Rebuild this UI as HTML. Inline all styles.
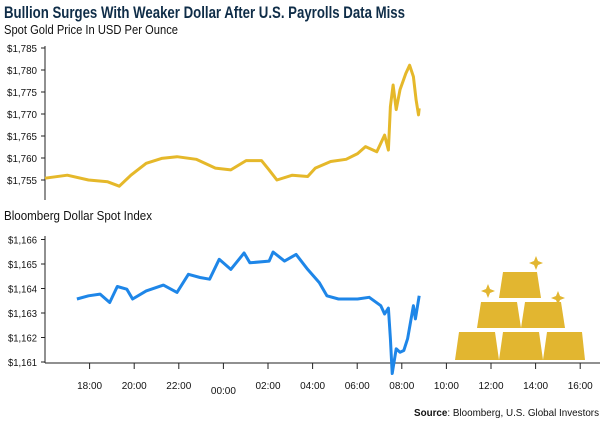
<!DOCTYPE html>
<html><head><meta charset="utf-8"><style>
html,body{margin:0;padding:0;background:#fff;}
svg{display:block;font-family:"Liberation Sans",sans-serif;}
</style></head><body>
<svg id="c" width="600" height="423" viewBox="0 0 600 423">
<text x="4" y="18" font-size="17" font-weight="bold" fill="#0f2d48" textLength="401" lengthAdjust="spacingAndGlyphs">Bullion Surges With Weaker Dollar After U.S. Payrolls Data Miss</text>
<text x="4" y="34" font-size="13" fill="#111" textLength="174" lengthAdjust="spacingAndGlyphs">Spot Gold Price In USD Per Ounce</text>
<text x="4" y="220" font-size="13" fill="#111" textLength="148" lengthAdjust="spacingAndGlyphs">Bloomberg Dollar Spot Index</text>
<g id="goldAxis"></g>
<g id="usdAxis"></g>
<g id="xAxis"></g>
<path id="goldLine" fill="none" stroke="#E5B82A" stroke-width="3" stroke-linejoin="round"/>
<path id="usdLine" fill="none" stroke="#1E86E8" stroke-width="3" stroke-linejoin="round"/>
<g fill="#E2B630">
<path d="M503 272 H537 L541 298 H499 Z"/>
<path d="M481 302 H517 L521 328 H477 Z"/>
<path d="M525 302 H561 L565 328 H521 Z"/>
<path d="M459 332 H495 L499 360 H455 Z"/>
<path d="M503 332 H539 L543 360 H499 Z"/>
<path d="M547 332 H582 L585 360 H543 Z"/>
<path d="M488 284 L490 289 L495 291 L490 293 L488 298 L486 293 L481 291 L486 289 Z"/>
<path d="M536 256 L538 261 L543 263 L538 265 L536 270 L534 265 L529 263 L534 261 Z"/>
<path d="M558 291 L560 296 L565 298 L560 300 L558 305 L556 300 L551 298 L556 296 Z"/>
</g>
<text x="599" y="416" font-size="10.5" text-anchor="end" fill="#111" textLength="185" lengthAdjust="spacingAndGlyphs"><tspan font-weight="bold">Source</tspan>: Bloomberg, U.S. Global Investors</text>
</svg>
<script>
// hours since 16:00
const goldHours=[0,1.0,1.95,2.81,3.33,3.85,4.54,5.23,5.92,6.78,7.64,8.33,9.02,9.71,10.05,10.4,11.09,11.78,12.12,12.81,13.5,14.02,14.37,14.88,15.23,15.4,15.49,15.61,15.75,15.92,16.18,16.35,16.52,16.64,16.75,16.78];
const goldValues=[1755.4,1756.1,1755,1754.6,1753.6,1756.1,1758.8,1759.9,1760.3,1759.7,1757.7,1757.3,1759.4,1759.4,1757.3,1755,1756.1,1755.8,1757.7,1759.2,1759.7,1761,1762.6,1761.4,1765.2,1761.8,1771.7,1776.6,1771,1775.5,1779.2,1781.1,1778.5,1773.2,1769.8,1771.3];
const usdHours=[1.43,1.95,2.47,2.9,3.24,3.67,3.93,4.54,5.31,5.92,6.43,6.95,7.38,7.81,8.33,8.93,9.19,10.05,10.23,10.74,11.26,11.78,12.3,12.64,13.16,14.02,14.54,15.06,15.23,15.4,15.49,15.57,15.75,15.92,16.09,16.26,16.52,16.61,16.78];
const usdValues=[1163.57,1163.7,1163.77,1163.43,1164.08,1163.97,1163.57,1163.9,1164.14,1163.84,1164.58,1164.45,1164.38,1165.19,1164.78,1165.45,1165.05,1165.12,1165.49,1165.12,1165.39,1164.78,1164.24,1163.7,1163.57,1163.57,1163.64,1163.3,1162.96,1163.2,1161.95,1160.53,1161.54,1161.4,1161.47,1161.95,1163.3,1162.76,1163.7];
const goldTicks=[1755,1760,1765,1770,1775,1780,1785];
const usdTicks=[1161,1162,1163,1164,1165,1166];
const xTickLabels=["18:00","20:00","22:00","00:00","02:00","04:00","06:00","08:00","10:00","12:00","14:00","16:00"];
const xTickHours=[2,4,6,8,10,12,14,16,18,20,22,24];

const NS="http://www.w3.org/2000/svg";
const X=h=>45+h*22.3;
const YG=v=>180-(v-1755)*4.4;
const YU=v=>362-(v-1161)*24.5;
function mk(tag,attrs,parent){const e=document.createElementNS(NS,tag);for(const k in attrs)e.setAttribute(k,attrs[k]);parent.appendChild(e);return e;}
function fmt(v){const s=String(v);return "$"+s[0]+","+s.slice(1);}
const ga=document.getElementById('goldAxis');
let l=mk('line',{x1:45,y1:46,x2:45,y2:200,stroke:'#222','stroke-width':1},ga);


goldTicks.forEach(v=>{
 const y=YG(v);
 const t=mk('line',{x1:41,y1:y,x2:45,y2:y,stroke:'#222'},ga);
 
 
 const tx=mk('text',{x:37,y:y+4,'font-size':10.5,'text-anchor':'end',fill:'#111',textLength:30,lengthAdjust:'spacingAndGlyphs'},ga);
 tx.textContent=fmt(v);
 
 
});
const ua=document.getElementById('usdAxis');
l=mk('line',{x1:45,y1:236,x2:45,y2:363,stroke:'#222'},ua);


usdTicks.forEach(v=>{
 const y=YU(v);
 const t=mk('line',{x1:41,y1:y,x2:45,y2:y,stroke:'#222'},ua);
 
 
 const tx=mk('text',{x:37,y:y+4,'font-size':10.5,'text-anchor':'end',fill:'#111',textLength:29,lengthAdjust:'spacingAndGlyphs'},ua);
 tx.textContent=fmt(v);
 
 
});
const xa=document.getElementById('xAxis');
l=mk('line',{x1:45,y1:363,x2:600,y2:363,stroke:'#222'},xa);


xTickHours.forEach((h,i)=>{
 const x=X(h);
 const t=mk('line',{x1:x,y1:363,x2:x,y2:369,stroke:'#222'},xa);
 
 
 const tx=mk('text',{x:x,y:xTickLabels[i]==="00:00"?394:389,'font-size':10.5,'text-anchor':'middle',fill:'#111',textLength:25,lengthAdjust:'spacingAndGlyphs'},xa);
 tx.textContent=xTickLabels[i];
 
 
});
document.getElementById('goldLine').setAttribute('d',goldHours.map((h,i)=>(i?'L':'M')+X(h).toFixed(1)+' '+YG(goldValues[i]).toFixed(1)).join(' '));
document.getElementById('usdLine').setAttribute('d',usdHours.map((h,i)=>(i?'L':'M')+X(h).toFixed(1)+' '+YU(usdValues[i]).toFixed(1)).join(' '));
</script>
</body></html>
